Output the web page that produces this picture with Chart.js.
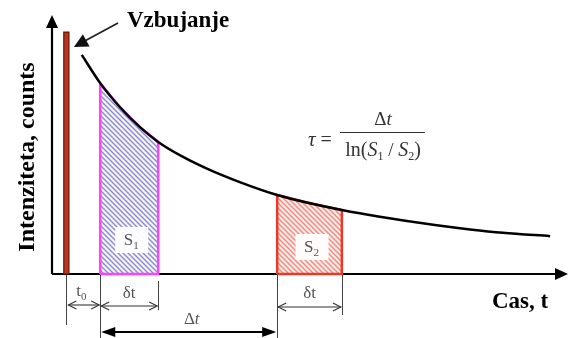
<!DOCTYPE html>
<html><head><meta charset="utf-8">
<script src="https://cdn.jsdelivr.net/npm/chart.js@4/dist/chart.umd.min.js"></script>
<style>html,body{margin:0;padding:0;background:#fff}canvas{display:block}</style>
</head><body>
<canvas id="c" width="568" height="338"></canvas>
<script>
// ---- data (time units / intensity units) ----
const decayTimes  = [0.58, 0.94, 1.33, 1.72, 2.07, 2.50, 3.02, 3.66, 4.39, 5.03, 5.65, 6.39, 7.50, 8.15, 8.79, 9.71];
const decayCounts = [8.46, 7.37, 6.43, 5.66, 5.10, 4.58, 4.07, 3.55, 3.05, 2.73, 2.47, 2.21, 1.88, 1.72, 1.59, 1.46];
const pulseTimes  = [0.23, 0.33];
const pulsePeak   = 9.34;
const window1     = [0.94, 2.07];
const window2     = [4.39, 5.65];
const axisRange   = [0, 10];
const labels = {
  yTitle: 'Intenziteta, counts', xTitle: 'Cas, t', pulse: 'Vzbujanje',
  s1: ['S', '1'], s2: ['S', '2'], t0: ['t', '0'], dt: 'δt', bigDt: 'Δt'
};

function windowShape(w){
  const pts=[{x:w[0],y:0}];
  decayTimes.forEach((t,i)=>{ if(t>=w[0]-1e-9 && t<=w[1]+1e-9) pts.push({x:t,y:decayCounts[i]}); });
  pts.push({x:w[1],y:0}); pts.push({x:w[0],y:0});
  return pts;
}
function pulseShape(){
  return [{x:pulseTimes[0],y:0},{x:pulseTimes[0],y:pulsePeak},{x:pulseTimes[1],y:pulsePeak},{x:pulseTimes[1],y:0},{x:pulseTimes[0],y:0}];
}
function hatch(bg, fg, s, lw){
  const c=document.createElement('canvas'); c.width=s; c.height=s;
  const g=c.getContext('2d'); g.fillStyle=bg; g.fillRect(0,0,s,s);
  g.strokeStyle=fg; g.lineWidth=lw;
  for(const k of [-1,0,1]){ g.beginPath(); g.moveTo(-1, k*s-1); g.lineTo(s+1, s+k*s+1); g.stroke(); }
  return g.createPattern(c,'repeat');
}

const SERIF = '"Liberation Serif", "Times New Roman", serif';

function arrowHead(g, x, y, dir, len, half, filled){
  const bx = x - Math.cos(dir)*len, by = y - Math.sin(dir)*len;
  const px = -Math.sin(dir)*half, py = Math.cos(dir)*half;
  g.beginPath();
  g.moveTo(bx+px, by+py); g.lineTo(x, y); g.lineTo(bx-px, by-py);
  if(filled){ g.closePath(); g.fill(); } else g.stroke();
}
function runs(g, parts, x, y, align){
  let w=0; parts.forEach(p=>{g.font=p[1]; w+=g.measureText(p[0]).width;});
  let cx = align==='center' ? x-w/2 : x;
  g.textAlign='left';
  parts.forEach(p=>{g.font=p[1]; g.fillText(p[0], cx, y+(p[2]||0)); cx+=g.measureText(p[0]).width;});
}

const axesPlugin = {
  id:'axesArrows',
  beforeDatasetsDraw(chart){
    const g=chart.ctx, a=chart.chartArea;
    g.save(); g.strokeStyle='#000'; g.fillStyle='#000'; g.lineWidth=2.2;
    g.beginPath(); g.moveTo(a.left, a.bottom); g.lineTo(a.left, a.top+8); g.stroke();
    arrowHead(g, a.left, a.top, -Math.PI/2, 13, 6, true);
    g.beginPath(); g.moveTo(a.left, a.bottom); g.lineTo(a.right-8, a.bottom); g.stroke();
    arrowHead(g, a.right+3, a.bottom, 0, 13, 6, true);
    g.restore();
  }
};

const annotPlugin = {
  id:'annot',
  afterDatasetsDraw(chart){
    const g=chart.ctx, a=chart.chartArea, xs=chart.scales.x;
    const X=v=>xs.getPixelForValue(v);
    g.save();
    // S labels with white boxes
    [[window1, labels.s1, 240],[window2, labels.s2, 247]].forEach(([w,lab,cy])=>{
      const cx=(X(w[0])+X(w[1]))/2+2;
      g.fillStyle='rgba(255,255,255,0.95)'; g.fillRect(cx-16, cy-13, 33, 26);
      g.fillStyle='#555'; g.textBaseline='alphabetic';
      runs(g, [[lab[0], '17px '+SERIF, 0],[lab[1], '11px '+SERIF, 4]], cx, cy+5, 'center');
    });
    // dimension lines
    const xp=X((pulseTimes[0]+pulseTimes[1])/2), xa=X(window1[0]), xb=X(window1[1]), xc=X(window2[0]), xd=X(window2[1]);
    const base=a.bottom+1;
    g.strokeStyle='#444'; g.lineWidth=1;
    [[xp,base,325],[xa,base,338],[xb,base+6,310],[xc,base,338],[xd,base,315]].forEach(([x,y0,y1])=>{
      g.beginPath(); g.moveTo(Math.round(x)+0.5,y0); g.lineTo(Math.round(x)+0.5,y1); g.stroke();
    });
    function dim(x0,x1,y){
      g.beginPath(); g.moveTo(x0+1,y); g.lineTo(x1-1,y); g.stroke();
      arrowHead(g, x0+1, y, Math.PI, 8, 4, false);
      arrowHead(g, x1-1, y, 0, 8, 4, false);
    }
    g.lineWidth=1.1; g.strokeStyle='#333';
    dim(xp+1, xa, 305); dim(xa, xb, 306); dim(xc, xd, 307);
    // big delta-t arrow
    g.strokeStyle='#000'; g.fillStyle='#000'; g.lineWidth=1.8;
    g.beginPath(); g.moveTo(xa+8,332); g.lineTo(xc-8,332); g.stroke();
    arrowHead(g, xa+1, 332, Math.PI, 14, 5, true);
    arrowHead(g, xc-1, 332, 0, 14, 5, true);
    // dimension labels
    g.fillStyle='#555'; g.textBaseline='alphabetic';
    runs(g, [[labels.t0[0],'17px '+SERIF,0],[labels.t0[1],'11px '+SERIF,4]], (xp+xa)/2-2, 296, 'center');
    g.font='17px '+SERIF; g.textAlign='center';
    g.fillText(labels.dt, (xa+xb)/2, 298);
    g.fillText(labels.dt, (xc+xd)/2, 298);
    runs(g, [['Δ','17px '+SERIF,0],['t','italic 17px '+SERIF,0]], (xa+xc)/2+3, 324, 'center');
    // formula
    g.fillStyle='#333';
    runs(g, [['τ','italic 21px '+SERIF,0],[' =','20px '+SERIF,0]], 308, 146, 'left');
    g.strokeStyle='#333'; g.lineWidth=1.2;
    g.beginPath(); g.moveTo(340,132.5); g.lineTo(425,132.5); g.stroke();
    runs(g, [['Δ','19px '+SERIF,0],['t','italic 19px '+SERIF,0]], 383, 125, 'center');
    runs(g, [['ln(','20px '+SERIF,0],['S','italic 20px '+SERIF,0],['1','12px '+SERIF,4],[' / ','19px '+SERIF,0],['S','italic 20px '+SERIF,0],['2','12px '+SERIF,4],[')','20px '+SERIF,0]], 383, 156, 'center');
    // excitation label and arrow
    g.fillStyle='#000'; g.font='bold 23px '+SERIF; g.textAlign='left';
    g.fillText(labels.pulse, 127, 27);
    g.strokeStyle='#222'; g.fillStyle='#111'; g.lineWidth=1.8;
    const tipX=X(pulseTimes[1])+5, tipY=47;
    g.beginPath(); g.moveTo(118,23); g.lineTo(tipX+8, tipY-4.5); g.stroke();
    arrowHead(g, tipX, tipY, Math.atan2(tipY-23, tipX-118), 14, 7, true);
    // axis titles
    g.fillStyle='#000'; g.font='bold 23px '+SERIF; g.textAlign='left';
    g.fillText(labels.xTitle, 492, 308);
    g.save(); g.translate(34, 157); g.rotate(-Math.PI/2);
    g.textAlign='center'; g.font='bold 24px '+SERIF; g.fillText(labels.yTitle, 0, 0);
    g.restore();
    g.restore();
  }
};

const ctx=document.getElementById('c').getContext('2d');
new Chart(ctx,{
  type:'scatter',
  data:{datasets:[
    {label:'decay', data: decayTimes.map((t,i)=>({x:t,y:decayCounts[i]})), showLine:true, borderColor:'#000', borderWidth:2.5, pointRadius:0, cubicInterpolationMode:'monotone', fill:false, clip:false, order:0},
    {label:'S1', data: windowShape(window1), showLine:true, borderColor:'#ff40ff', borderWidth:2.5, backgroundColor: hatch('#f6f4fc','#8c8cd2',5,1.4), fill:'shape', pointRadius:0, tension:0, borderJoinStyle:'miter', clip:false, order:1},
    {label:'S2', data: windowShape(window2), showLine:true, borderColor:'#e8392b', borderWidth:2.5, backgroundColor: hatch('#fdecea','#f08a7e',5,1.4), fill:'shape', pointRadius:0, tension:0, borderJoinStyle:'miter', clip:false, order:2},
    {label:'pulse', data: pulseShape(), showLine:true, borderColor:'#6e1206', borderWidth:1.2, backgroundColor:'#b8341e', fill:'shape', pointRadius:0, tension:0, borderJoinStyle:'miter', clip:false, order:3}
  ]},
  options:{responsive:false, animation:false, events:[],
    layout:{padding:{left:52,right:3,top:15,bottom:64}},
    scales:{x:{type:'linear',min:axisRange[0],max:axisRange[1],display:false}, y:{min:axisRange[0],max:axisRange[1],display:false}},
    plugins:{legend:{display:false}, tooltip:{enabled:false}}},
  plugins:[axesPlugin, annotPlugin]
});
</script>
</body></html>
